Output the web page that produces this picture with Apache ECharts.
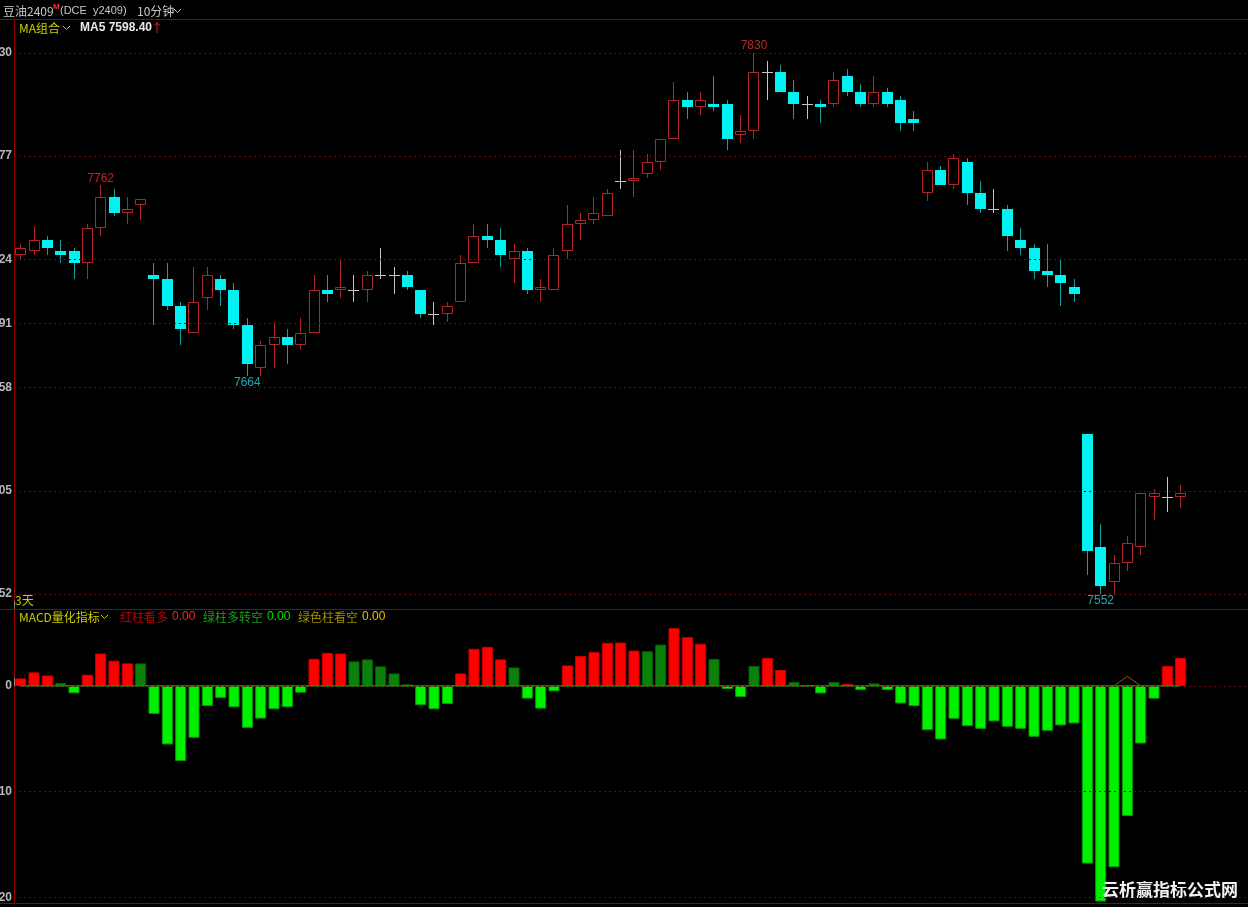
<!DOCTYPE html>
<html><head><meta charset="utf-8">
<script src="https://cdn.jsdelivr.net/npm/echarts@6/dist/echarts.min.js"></script>
<style>html,body{margin:0;padding:0;background:#000;}#c{width:1248px;height:907px;}</style>
</head><body><div id="c"></div>
<script>
// ---- data ----
const opens  = [7726,7728,7734,7728,7728,7722,7740,7756,7748,7752, 7716,7714,7700,7686,7704,7714,7708,7690,7668,7680, 7684,7680,7686,7708,7708,7708,7708,7716,7716,7716, 7708,7696,7696,7702,7722,7736,7734,7724,7728,7708, 7708,7728,7742,7744,7746,7764,7764,7768,7774,7786, 7806,7802,7804,7804,7788,7790,7820,7820,7810,7804, 7804,7804,7818,7810,7804,7810,7806,7796,7758,7770, 7762,7774,7758,7750,7750,7734,7730,7718,7716,7710, 7634,7576,7558,7568,7576,7602,7602,7602];
const highs  = [7732,7741,7736,7734,7730,7742,7762,7760,7756,7755, 7722,7722,7702,7720,7720,7716,7712,7694,7682,7692, 7688,7694,7716,7716,7724,7716,7718,7730,7720,7718, 7708,7702,7702,7726,7742,7742,7740,7732,7730,7714, 7730,7752,7748,7756,7760,7780,7780,7778,7786,7815, 7810,7810,7818,7806,7798,7830,7826,7824,7816,7808, 7806,7820,7822,7814,7818,7812,7808,7800,7774,7772, 7778,7776,7764,7760,7752,7740,7732,7732,7724,7714, 7634,7588,7572,7582,7604,7606,7612,7608];
const lows   = [7724,7726,7726,7722,7714,7714,7736,7746,7742,7744, 7690,7698,7680,7686,7698,7700,7688,7664,7664,7668, 7670,7678,7686,7702,7704,7702,7702,7714,7706,7708, 7694,7690,7692,7702,7722,7730,7720,7712,7706,7702, 7708,7724,7734,7742,7746,7760,7756,7766,7770,7786, 7796,7798,7800,7780,7784,7786,7806,7810,7796,7796, 7794,7802,7808,7802,7802,7802,7790,7790,7754,7762, 7760,7752,7748,7748,7728,7726,7714,7710,7700,7702, 7562,7552,7552,7564,7572,7590,7594,7596];
const closes = [7730,7734,7730,7726,7722,7740,7756,7748,7750,7755, 7714,7700,7688,7702,7716,7708,7690,7670,7680,7684, 7680,7686,7708,7706,7710,7708,7716,7716,7716,7710, 7696,7696,7700,7722,7736,7734,7726,7728,7708,7710, 7726,7742,7744,7748,7758,7764,7766,7774,7786,7806, 7802,7806,7802,7786,7790,7820,7820,7810,7804,7804, 7802,7816,7810,7804,7810,7804,7794,7794,7770,7762, 7776,7758,7750,7750,7736,7730,7718,7716,7712,7706, 7574,7556,7568,7578,7604,7604,7602,7604];
const macdValues = [0.72,1.29,1.0,0.28,-0.69,1.07,3.08,2.39,2.14,2.14, -2.64,-5.53,-7.1,-4.9,-1.89,-1.13,-2.01,-3.96,-3.08,-2.2, -2.01,-0.63,2.58,3.14,3.08,2.33,2.52,1.86,1.19,0.16, -1.82,-2.2,-1.7,1.19,3.52,3.71,2.52,1.76,-1.19,-2.14, -0.5,1.95,2.83,3.2,4.09,4.11,3.35,3.29,3.92,5.47, 4.62,3.99,2.56,-0.28,-1.04,1.9,2.66,1.52,0.38,0, -0.7,0.38,0.19,-0.38,0.25,-0.38,-1.65,-1.9,-4.18,-5.06, -3.1,-3.8,-4.05,-3.35,-3.86,-4.05,-4.81,-4.24,-3.73,-3.54, -16.8,-20.4,-17.15,-12.3,-5.44,-1.2,1.9,2.66];
// r = red (红柱看多), d = dark green (绿柱多转空), g = green (绿色柱看空)
const macdKinds = ('rrrdgrrrrd gggggggggg ggrrrddddd gggrrrrdgg grrrrrrddr ' +
                   'rrdggdrrdd gdrgdggggg gggggggggg ggggggrr').replace(/ /g, '').split('');
const crossMark = [[82,0],[83,0.92],[84,0]];
const extremeMarks = [[6,'high'],[17,'low'],[55,'high'],[81,'low']];
const mainTickValues = [7830,7777,7724,7691,7658,7605,7552];
const mainTickLabels = ['30','77','24','91','58','05','52'];
const macdTickValues = [0,-10,-20];
const macdTickLabels = ['0','10','20'];
const daySplitIndex = 68;
const padCount = 5;

const N = closes.length;
const cats = [];
for (let i = 0; i < N + padCount; i++) cats.push(String(i));
const candleData = closes.map((c, i) => [i, opens[i], highs[i], lows[i], c]);

const RED = '#b4252a', CYAN = '#00f2f2', CYAN_W = '#12a2a2', DOJI = '#c4c4c4';
const GRID_RED = '#6a0808';

function renderCandle(params, api) {
  const i = api.value(0);
  const o = api.value(1), h = api.value(2), l = api.value(3), c = api.value(4);
  const px = Math.floor(api.coord([i, o])[0]);
  const yO = Math.round(api.coord([i, o])[1]);
  const yC = Math.round(api.coord([i, c])[1]);
  const yH = Math.round(api.coord([i, h])[1]);
  const yL = Math.round(api.coord([i, l])[1]);
  const top = Math.min(yO, yC), bot = Math.max(yO, yC);
  const wx = px + 0.5;
  const children = [];
  if (c === o) {
    children.push({type:'line', shape:{x1:wx,y1:yH,x2:wx,y2:yL}, style:{stroke:DOJI,lineWidth:1}});
    children.push({type:'line', shape:{x1:px-5,y1:yO+0.5,x2:px+6,y2:yO+0.5}, style:{stroke:DOJI,lineWidth:1}});
  } else if (c > o) {
    if (yH < top) children.push({type:'line', shape:{x1:wx,y1:yH,x2:wx,y2:top}, style:{stroke:RED,lineWidth:1}});
    if (yL > bot) children.push({type:'line', shape:{x1:wx,y1:bot,x2:wx,y2:yL}, style:{stroke:RED,lineWidth:1}});
    children.push({type:'rect', shape:{x:px-4.5,y:top+0.5,width:10,height:Math.max(1,bot-top-1)}, style:{stroke:RED,fill:'#000',lineWidth:1}});
  } else {
    children.push({type:'line', shape:{x1:wx,y1:yH,x2:wx,y2:yL}, style:{stroke:CYAN_W,lineWidth:1}});
    children.push({type:'rect', shape:{x:px-5,y:top,width:11,height:Math.max(1,bot-top)}, style:{fill:CYAN,stroke:null}});
  }
  return {type:'group', children};
}

const barColors = {r:'#ff0000', d:'#0a820a', g:'#00f000'};
const barBorders = {r:'#d00000', d:'#066006', g:'#00a000'};
const macdBars = macdValues.map((v, i) => {
  const k = v < 0 ? 'g' : (macdKinds[i] || 'r');
  return {value: v, itemStyle: {color: barColors[k], borderColor: barBorders[k], borderWidth: 1}};
});
const zeroLine = macdValues.map(() => 0);
const crossLine = macdValues.map(() => null);
crossMark.forEach(([i, v]) => { crossLine[i] = v; });

const extremeData = extremeMarks.map(([i, t]) => ({
  value: [i, t === 'high' ? highs[i] : lows[i]],
  label: {position: t === 'high' ? 'top' : 'bottom', color: t === 'high' ? '#e83232' : '#2ad0e0'}
}));

function tickFmt(vals, labels) {
  return function (v) {
    for (let j = 0; j < vals.length; j++) if (Math.abs(vals[j] - v) < 0.01) return labels[j];
    return '';
  };
}

const axisLabelStyle = {color:'#b8b8b8', fontSize:12, fontWeight:'bold', fontFamily:'Liberation Sans', margin:2};

const chart = echarts.init(document.getElementById('c'), null, {renderer:'canvas'});
const FONT = "'Noto Sans CJK SC', sans-serif";
function txt(x, y, s, fill, size, weight, fam) {
  return {type:'text', x, y, silent:true, z:100, style:{text:s, fill, font:(weight||'normal')+' '+(size||12)+'px '+(fam||FONT), textVerticalAlign:'middle'}};
}
function chev(x, y, color) {
  return {type:'polyline', silent:true, z:100, shape:{points:[[x,y-2],[x+3.5,y+1.5],[x+7,y-2]]}, style:{stroke:color, lineWidth:1, fill:null}};
}
function hline(y) {
  return {type:'line', silent:true, z:100, shape:{x1:0,y1:y+0.5,x2:1248,y2:y+0.5}, style:{stroke:'#960000',lineWidth:1}};
}

chart.setOption({
  backgroundColor:'#000',
  animation:false,
  grid:[
    {left:14, top:19, width:1240, height:590, containLabel:false, outerBoundsMode:'none'},
    {left:14, top:609, width:1240, height:294, containLabel:false, outerBoundsMode:'none'}
  ],
  xAxis:[
    {type:'category', gridIndex:0, data:cats, boundaryGap:true,
     axisLine:{show:false}, axisLabel:{show:false}, splitLine:{show:false},
     axisTick:{show:true, inside:true, length:8, interval:(idx)=>idx===daySplitIndex, lineStyle:{color:'#8a8a8a'}}},
    {type:'category', gridIndex:1, data:cats, boundaryGap:true,
     axisLine:{show:false}, axisLabel:{show:false}, splitLine:{show:false},
     axisTick:{show:true, inside:true, length:8, interval:(idx)=>idx===daySplitIndex, lineStyle:{color:'#8a8a8a'}}}
  ],
  yAxis:[
    {type:'value', gridIndex:0, min:7544.29, max:7847.47, position:'left',
     axisLine:{show:true, lineStyle:{color:'#960000'}}, axisTick:{show:false}, splitLine:{show:false},
     axisLabel:Object.assign({customValues:mainTickValues, formatter:tickFmt(mainTickValues, mainTickLabels)}, axisLabelStyle)},
    {type:'value', gridIndex:1, min:-20.54, max:7.29, position:'left',
     axisLine:{show:true, lineStyle:{color:'#960000'}}, axisTick:{show:false}, splitLine:{show:false},
     axisLabel:Object.assign({customValues:macdTickValues, formatter:tickFmt(macdTickValues, macdTickLabels)}, axisLabelStyle)}
  ],
  series:[
    {type:'scatter', xAxisIndex:0, yAxisIndex:0, z:1, symbolSize:0, silent:true,
     data:extremeData,
     label:{show:true, distance:1, fontSize:12, fontFamily:'Liberation Sans', formatter:(p)=>String(p.value[1])},
     markLine:{silent:true, symbol:'none', label:{show:false},
       lineStyle:{color:GRID_RED, type:[2,3], width:1},
       data:mainTickValues.map(v=>({yAxis:v}))}},
    {type:'custom', xAxisIndex:0, yAxisIndex:0, z:3, renderItem:renderCandle, data:candleData,
     encode:{x:0, y:[1,2,3,4]}, clip:true},
    {type:'bar', xAxisIndex:1, yAxisIndex:1, z:2, barWidth:11, data:macdBars, silent:true,
     markLine:{silent:true, symbol:'none', label:{show:false},
       lineStyle:{color:GRID_RED, type:[2,3], width:1},
       data:macdTickValues.map(v=>({yAxis:v}))}},
    {type:'line', xAxisIndex:1, yAxisIndex:1, z:4, data:zeroLine, symbol:'none', silent:true,
     lineStyle:{color:'#129a12', width:1.5}},
    {type:'line', xAxisIndex:1, yAxisIndex:1, z:4, data:crossLine, symbol:'none', silent:true, connectNulls:false,
     lineStyle:{color:'#8a5a1c', width:1}}
  ],
  graphic:[
    hline(19), hline(609), hline(903),
    txt(3, 11, '豆油2409', '#c8c8c8', 12),
    txt(53, 7, 'M', '#ff3030', 8, 'bold', 'Liberation Sans'),
    txt(60, 11, '(DCE  y2409)', '#c8c8c8', 11, 'normal', 'Liberation Sans'),
    txt(137, 11, '10分钟', '#c8c8c8', 12),
    chev(174, 11, '#c8c8c8'),
    txt(19, 28, 'MA组合', '#cccc00', 12),
    chev(63, 28, '#cccc00'),
    txt(80, 28, 'MA5 7598.40', '#e8e8e8', 12, 'bold', 'Liberation Sans'),
    txt(151, 28, '↑', '#ff2020', 12),
    txt(15, 600, '3天', '#cccc00', 12),
    txt(19, 617, 'MACD量化指标', '#cccc00', 12),
    chev(101, 617, '#cccc00'),
    txt(120, 617, '红柱看多', '#c00000', 12),
    txt(172, 617, '0.00', '#ff2020', 12, 'normal', 'Liberation Sans'),
    txt(203, 617, '绿柱多转空', '#18a018', 12),
    txt(267, 617, '0.00', '#00e000', 12, 'normal', 'Liberation Sans'),
    txt(298, 617, '绿色柱看空', '#a08c00', 12),
    txt(362, 617, '0.00', '#e8c000', 12, 'normal', 'Liberation Sans'),
    txt(1102, 890, '云析赢指标公式网', '#f2f2f2', 17, 'bold')
  ]
});
</script>
</body></html>
